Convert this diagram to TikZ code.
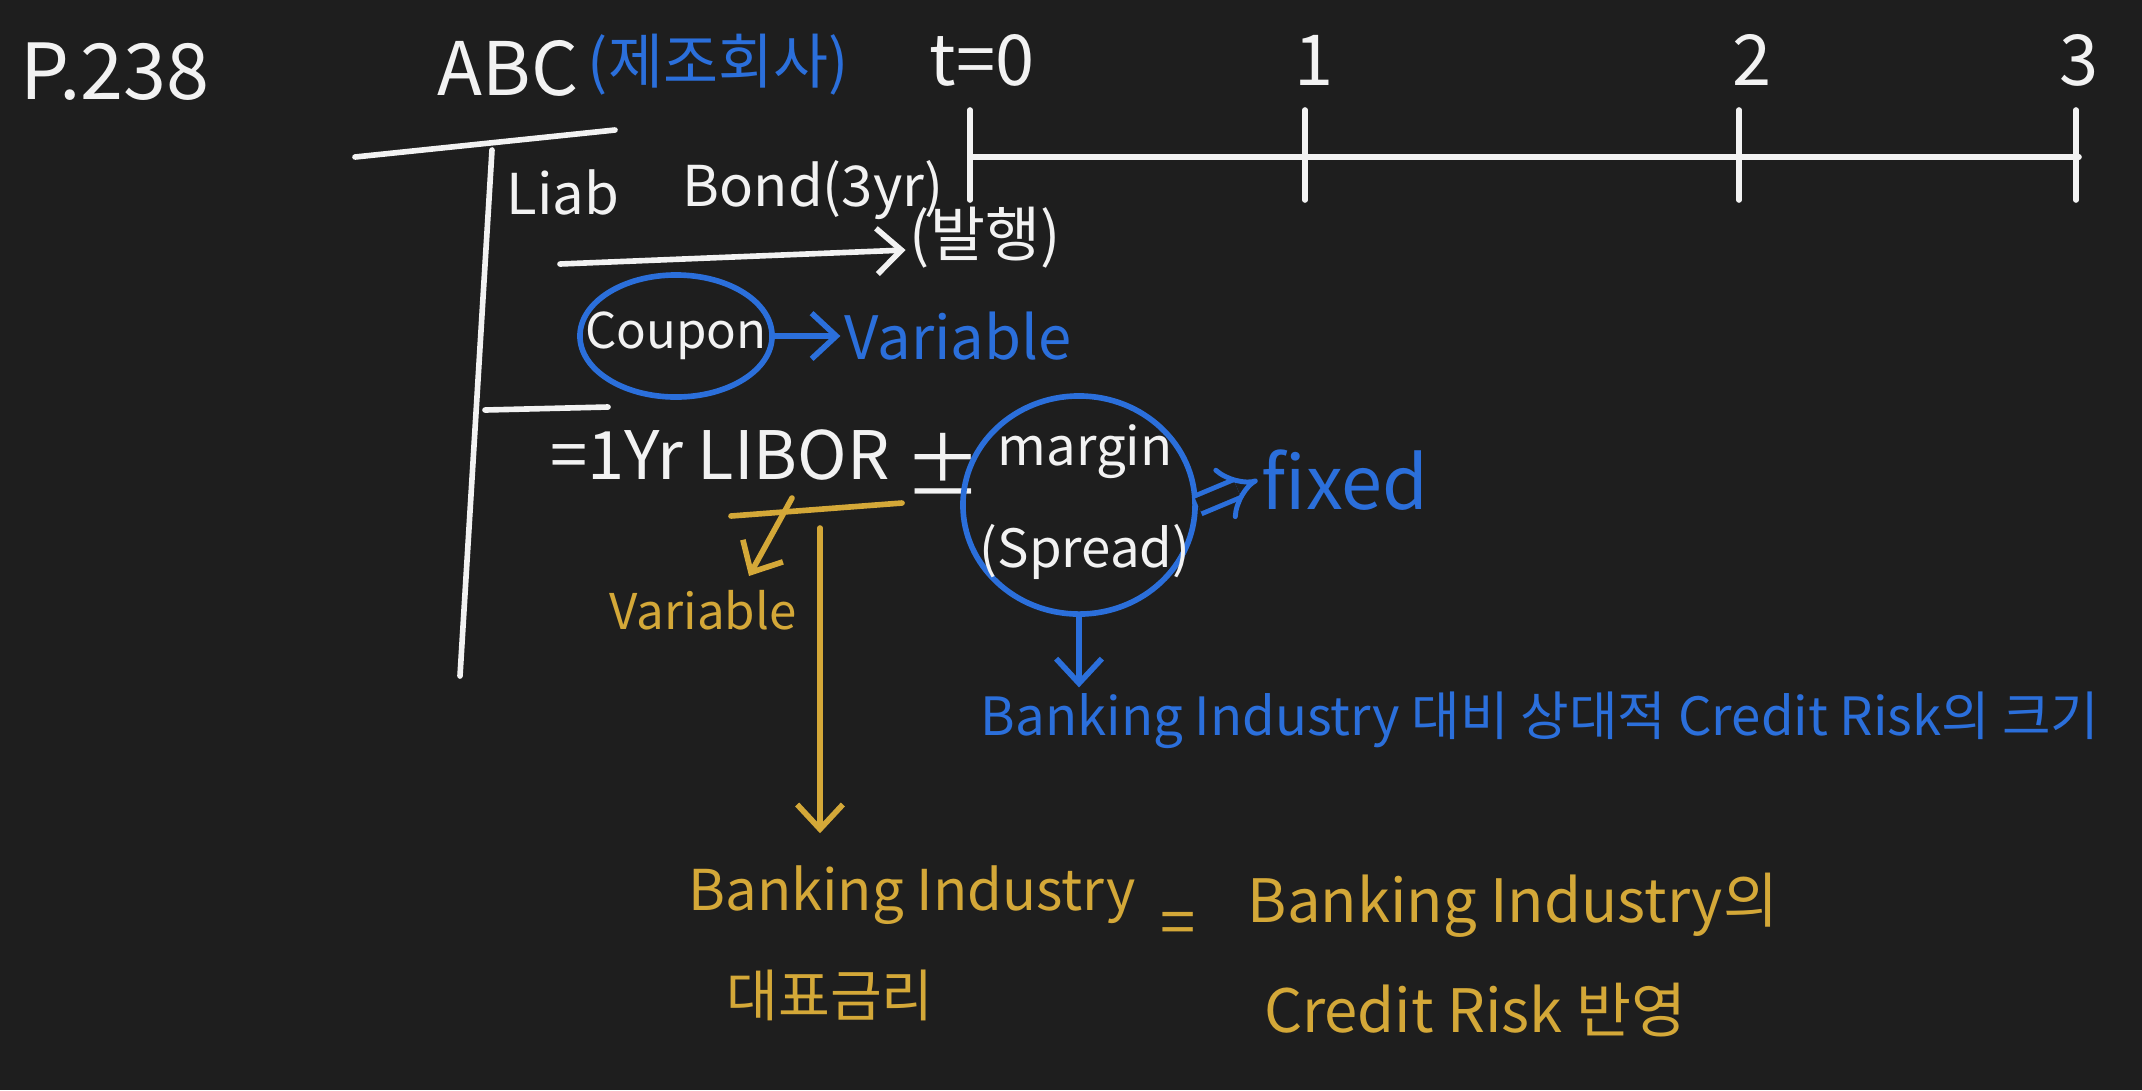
\documentclass[tikz,border=0pt]{standalone}
\usepackage{fontspec}
\setmainfont{Noto Sans CJK KR}
\usetikzlibrary{arrows.meta,shapes.geometric}
\definecolor{board}{HTML}{1E1E1E}
\definecolor{chalk}{HTML}{F2F2F2}
\definecolor{penblue}{HTML}{2B6FDB}
\definecolor{penyellow}{HTML}{D4A838}

\tikzset{
  pen/.style={line width=1.6pt, line cap=round},
  barb/.style={-{Straight Barb[length=7pt,width=13pt]}},
  hand/.style={font=\fontsize{#1}{#1}\selectfont, inner sep=1pt},
  ring/.style={draw=penblue, pen, ellipse, inner sep=0pt},
}

\begin{document}
\begin{tikzpicture}[x=0.01cm, y=-0.01cm]
  % board
  \fill[board] (0,0) rectangle (2142,1090);
  \useasboundingbox (0,0) rectangle (2142,1090);

  % page and company
  \node[hand=22, text=chalk] (page) at (115,72) {P.238};
  \node[hand=21, text=chalk] (abc) at (508,68) {ABC};
  \node[hand=17, text=penblue] (maker) at (718,65) {(제조회사)};

  % time line
  \draw[chalk, pen] (970,157) -- (2079,157);
  \foreach \x/\lx/\lab [count=\i] in {970/982/{t=0}, 1305/1314/1, 1739/1752/2, 2076/2079/3} {
    \draw[chalk, pen] (\x,110) -- (\x,200);
    \node[hand=20, text=chalk] (tick\i) at (\lx,60) {\lab};
  }

  % T-account
  \draw[chalk, pen] (355,157) -- (615,130);
  \draw[chalk, pen] (492,150) -- (460,676);
  \draw[chalk, pen] (485,410) -- (608,407);
  \node[hand=16, text=chalk] (liab) at (563,192) {Liab};
  \node[hand=16, text=chalk] (bond) at (813,190) {Bond(3yr)};
  \node[hand=17, text=chalk] (issue) at (985,238) {(발행)};
  \coordinate (bondarr) at (560,264);
  \draw[chalk, pen, barb] (bondarr) -- ([yshift=-0.12cm]issue.west);

  % coupon
  \node[ring, minimum width=1.92cm, minimum height=1.22cm] (couponring) at (676,336) {};
  \node[hand=14, text=chalk] (coupon) at (676,336) {Coupon};
  \node[hand=17, text=penblue] (varb) at (958,336) {Variable};
  \draw[penblue, pen, barb] (couponring.east) -- (varb.west);

  % = 1Yr LIBOR +- margin
  \node[hand=19, text=chalk] (libor) at (720,455) {=1Yr LIBOR};
  \node[hand=22, text=chalk] (pm) at (943,464) {±};
  \node[ring, minimum width=2.32cm, minimum height=2.18cm] (spreadring) at (1079,505) {};
  \node[font=\fontsize{15}{29}\selectfont, text=chalk, align=center, inner sep=0pt] (spread) at (1085,502) {margin\\(Spread)};
  \node[hand=21, text=penblue] (fixed) at (1345,480) {fixed};
  \draw[penblue, line width=1.4pt, double=board, double distance=4pt, -{Implies}] (spreadring.east) -- (fixed.west);

  % LIBOR branch
  \draw[penyellow, pen] (731,516) -- (902,503);
  \coordinate (libtick) at (792,498);
  \coordinate (libdown) at (820,528);
  \coordinate (varyin) at (749,576);
  \node[hand=14, text=penyellow] (vary) at (703,610) {Variable};
  \draw[penyellow, pen, barb] (libtick) -- (varyin);

  % spread meaning
  \node[hand=15, text=penblue] (credit) at (1540,720) {Banking Industry 대비 상대적 Credit Risk의 크기};
  \draw[penblue, pen, barb] (spreadring.south) -- (spreadring.south |- credit.north);

  % benchmark rate
  \node[hand=16, text=penyellow] (bank) at (912,895) {Banking Industry};
  \node[hand=16, text=penyellow] (rate) at (830,995) {대표금리};
  \node[hand=18, text=penyellow] (eq) at (1178,929) {=};
  \node[hand=17, text=penyellow] (bank2) at (1513,905) {Banking Industry의};
  \node[hand=17, text=penyellow] (refl) at (1475,1010) {Credit Risk 반영};
  \draw[penyellow, pen, barb, shorten >=8pt] (libdown) -- (libdown |- bank.north);
\end{tikzpicture}
\end{document}
